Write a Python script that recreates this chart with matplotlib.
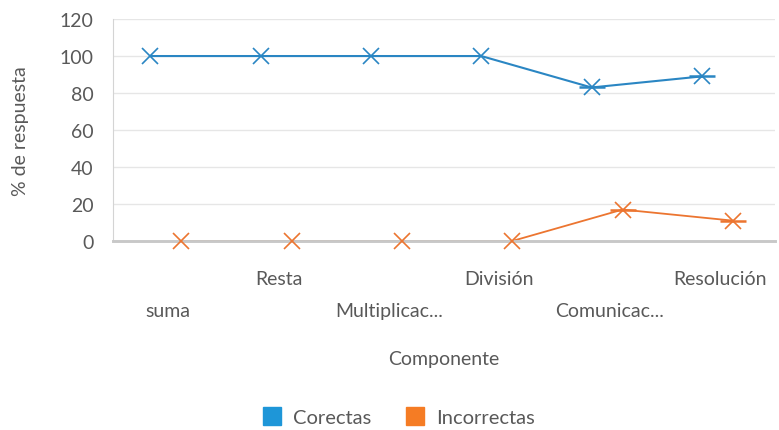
import matplotlib
matplotlib.use("Agg")
import numpy as np
from matplotlib import pyplot as plt
from matplotlib.lines import Line2D

# data
categorias = ["suma", "Resta", "Multiplicac...", "División", "Comunicac...", "Resolución"]
correctas = [100, 100, 100, 100, 83, 89]
incorrectas = [0, 0, 0, 0, 17, 11]
yticks = [0, 20, 40, 60, 80, 100, 120]

azul = "#2a86c3"
naranja = "#ec7530"
gris = "#595959"

plt.rcParams['font.family'] = ['Lato', 'DejaVu Sans']

fig = plt.figure(figsize=(7.79, 4.31), dpi=100)
ax = fig.add_axes([0.145, 0.4385, 0.85, 0.515])

x = np.arange(len(categorias))
xa = x - 0.163
xn = x + 0.118

# lines (the zero segment sits under the axis line)
ax.plot(xa, correctas, color=azul, lw=1.5, zorder=2)
ax.plot(xn, incorrectas, color=naranja, lw=1.3, zorder=2)
# markers: an x with a short dash
for xs, ys, c in [(xa, correctas, azul), (xn, incorrectas, naranja)]:
    ax.plot(xs, ys, ls="none", marker="x", ms=11, mew=1.2, color=c, zorder=4, clip_on=False)
    ax.plot(xs[4:], ys[4:], ls="none", marker="_", ms=19, mew=1.8, color=c, zorder=4, clip_on=False)

ax.set_xlim(-0.5, len(categorias) - 0.5)
ax.set_ylim(0, 120)
ax.set_yticks(yticks)
ax.yaxis.grid(True, color="#e6e6e6", lw=1)
ax.set_axisbelow(True)

for s in ["top", "right"]:
    ax.spines[s].set_visible(False)
ax.spines["left"].set_color("#d4d4d4")
ax.spines["bottom"].set_color("#c8c8c8")
ax.spines["bottom"].set_linewidth(2.1)
ax.spines["bottom"].set_zorder(3)

ax.set_xticks(x)
ax.set_xticklabels(categorias)
ax.tick_params(axis="both", length=0, labelsize=14, labelcolor=gris)
ax.tick_params(axis="y", pad=14)
for i, t in enumerate(ax.xaxis.get_major_ticks()):
    t.set_pad(21 if i % 2 == 1 else 44)

ax.set_xlabel("Componente", fontsize=14, color=gris, labelpad=22)
ax.set_ylabel("% de respuesta", fontsize=14, color=gris, labelpad=22)

handles = [Line2D([], [], ls="none", marker="s", ms=13, color=c) for c in ["#1e96d8", "#f57c24"]]
fig.legend(handles, ["Corectas", "Incorrectas"], loc="center", bbox_to_anchor=(0.51, 0.03),
           ncol=2, frameon=False, fontsize=14.5, labelcolor=gris, handlelength=1.2,
           handletextpad=0.45, columnspacing=1.6)

fig.savefig("out.png", dpi=100)
